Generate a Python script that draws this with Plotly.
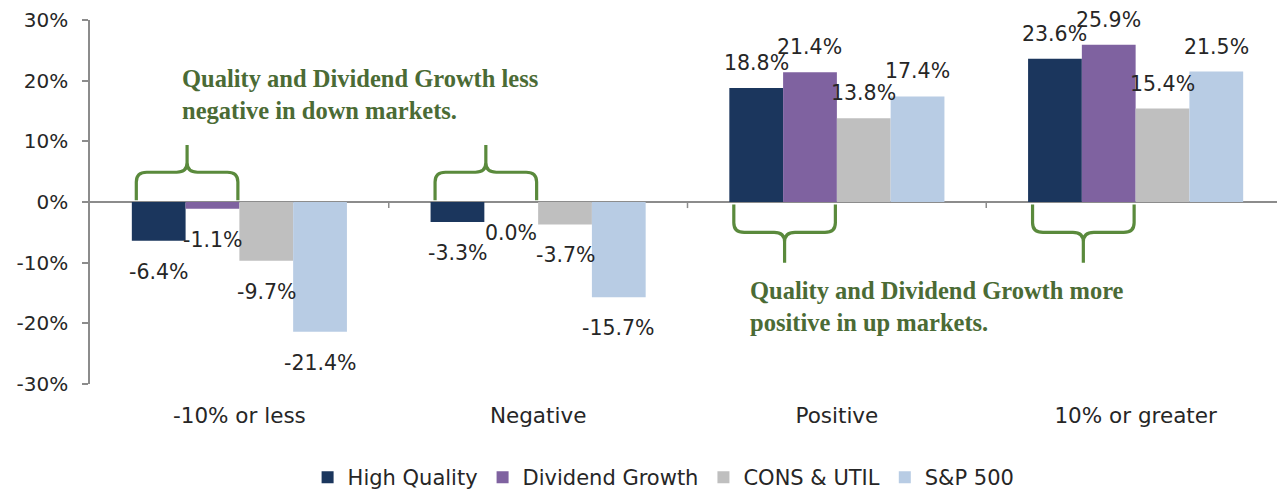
import plotly.graph_objects as go

# ---------------- data ----------------
categories = ["-10% or less", "Negative", "Positive", "10% or greater"]
series_names = ["High Quality", "Dividend Growth", "CONS & UTIL", "S&P 500"]
high_quality = [-6.4, -3.3, 18.8, 23.6]
dividend_growth = [-1.1, 0.0, 21.4, 25.9]
cons_util = [-9.7, -3.7, 13.8, 15.4]
sp500 = [-21.4, -15.7, 17.4, 21.5]
y_ticks = [-30, -20, -10, 0, 10, 20, 30]
note_down = "Quality and Dividend Growth less<br>negative in down markets."
note_up = "Quality and Dividend Growth more<br>positive in up markets."

# ---------------- style ----------------
colors = ["#1B365D", "#7F62A0", "#BFBFBF", "#B8CCE4"]
TXT = "#262626"
AX = "#8C8C8C"
GREEN_TXT = "#4B6B35"
GREEN_LINE = "#5A8A3C"
SANS = "DejaVu Sans"
SERIF = "Liberation Serif"

series_values = [high_quality, dividend_growth, cons_util, sp500]
x_idx = list(range(len(categories)))
bargap = 0.28
n_series = len(series_values)
bw = (1 - bargap) / n_series

fig = go.Figure()
for name, vals, col in zip(series_names, series_values, colors):
    fig.add_trace(go.Bar(x=x_idx, y=vals, name=name, marker_color=col,
                         marker_line_width=0))

# data labels
annotations = []
for j, vals in enumerate(series_values):
    off = (j - (n_series - 1) / 2) * bw
    for i, v in enumerate(vals):
        pos = v > 0
        annotations.append(dict(
            x=x_idx[i] + off, y=v, xref="x", yref="y",
            text=f"{v:.1f}%", showarrow=False,
            yanchor="bottom" if pos else "top",
            yshift=11 if pos else -17,
            font=dict(family=SANS, size=20.5, color=TXT)))

# notes
annotations.append(dict(x=0.0753, y=0.882, xref="paper", yref="paper",
                        xanchor="left", yanchor="top", align="left",
                        text=f"<b>{note_down}</b>", showarrow=False,
                        font=dict(family=SERIF, size=24.5, color=GREEN_TXT)))
annotations.append(dict(x=0.5506, y=0.300, xref="paper", yref="paper",
                        xanchor="left", yanchor="top", align="left",
                        text=f"<b>{note_up}</b>", showarrow=False,
                        font=dict(family=SERIF, size=24.5, color=GREEN_TXT)))


def brace(x0, x1, yb, yh, yt, rx=0.035, ry=1.6):
    """Curly brace: legs at yb, bar at yh, tip at yt."""
    s = 1 if yt > yh else -1
    xm = (x0 + x1) / 2
    return (f"M {x0},{yb} L {x0},{yh - s*ry} Q {x0},{yh} {x0+rx},{yh} "
            f"L {xm-rx},{yh} Q {xm},{yh} {xm},{yh + s*ry} L {xm},{yt} "
            f"M {xm},{yh + s*ry} Q {xm},{yh} {xm+rx},{yh} "
            f"L {x1-rx},{yh} Q {x1},{yh} {x1},{yh - s*ry} L {x1},{yb}")


shapes = []
for i in x_idx:
    x0 = i - 2 * bw + 0.015
    x1 = i - 0.005
    if i < 2:
        p = brace(x0, x1, 0.3, 4.9, 9.4)
    else:
        p = brace(x0, x1, -0.4, -5.0, -10.0)
    shapes.append(dict(type="path", path=p, xref="x", yref="y",
                       line=dict(color=GREEN_LINE, width=3.2)))

# category boundary ticks on the zero line
for b in [0.5, 1.5, 2.5]:
    shapes.append(dict(type="line", xref="x", yref="y", x0=b, x1=b,
                       y0=0, y1=-1.0, line=dict(color=AX, width=1.5)))

fig.update_layout(
    width=1277, height=490,
    margin=dict(l=82, r=0, t=12, b=114),
    paper_bgcolor="white", plot_bgcolor="white",
    barmode="group", bargap=bargap, bargroupgap=0,
    annotations=annotations, shapes=shapes,
    showlegend=True,
    legend=dict(orientation="h", x=0.48, xanchor="center",
                y=-0.258, yanchor="middle", itemwidth=30,
                font=dict(family=SANS, size=21, color=TXT)),
    xaxis=dict(range=[-0.5, 3.5], tickvals=x_idx, ticktext=categories,
               showgrid=False, zeroline=False, showline=False,
               ticks="outside", ticklen=12, tickcolor="rgba(0,0,0,0)",
               tickfont=dict(family=SANS, size=21.5, color=TXT)),
    yaxis=dict(range=[-30, 30], tickvals=y_ticks,
               ticktext=[f"{t}%" for t in y_ticks],
               showgrid=False, zeroline=True, zerolinecolor=AX,
               zerolinewidth=2, showline=True, linecolor=AX, linewidth=1.5,
               ticks="outside", ticklen=6, tickcolor=AX, tickwidth=1.5,
               ticklabelstandoff=10,
               tickfont=dict(family=SANS, size=20, color=TXT)),
)

fig.write_html("out.html")
